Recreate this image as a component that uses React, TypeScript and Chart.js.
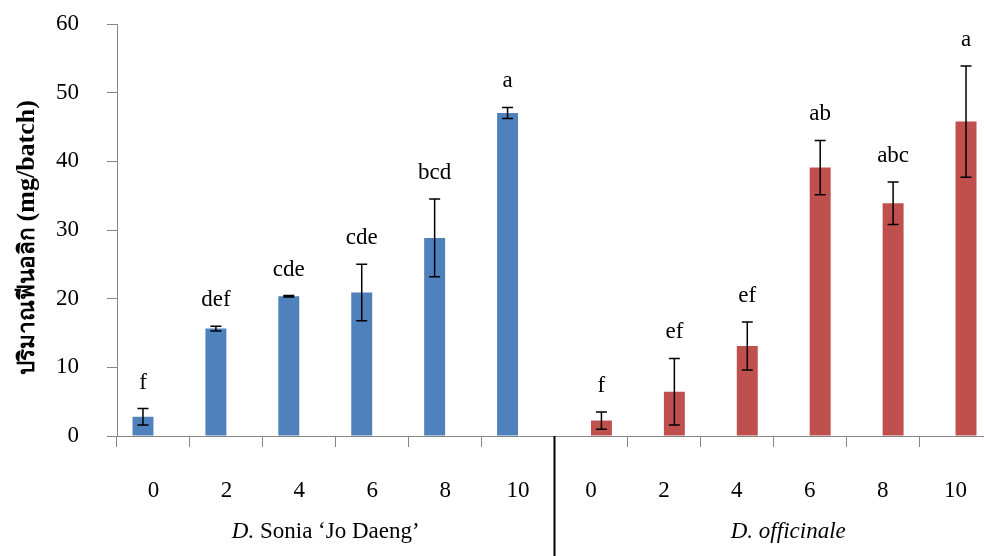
import React, { useEffect, useRef } from "react";
import { Chart, registerables } from "chart.js";

Chart.register(...registerables);

const doseLabels = ["0", "2", "4", "6", "8", "10", "0", "2", "4", "6", "8", "10"];
const soniaMeans = [2.8, 15.65, 20.35, 20.9, 28.85, 47.05];
const soniaErrors = [1.2, 0.35, 0.1, 4.1, 5.65, 0.8];
const soniaLetters = ["f", "def", "cde", "cde", "bcd", "a"];
const officinaleMeans = [2.25, 6.45, 13.1, 39.1, 33.9, 45.8];
const officinaleErrors = [1.25, 4.85, 3.5, 3.95, 3.1, 8.1];
const officinaleLetters = ["f", "ef", "ef", "ab", "abc", "a"];
const yTickValues = [0, 10, 20, 30, 40, 50, 60];
const yTitleThai = "ปริมาณฟีนอลิก ";
const yTitleUnit = "(mg/batch)";
const group1Italic = "D.";
const group1Rest = " Sonia ‘Jo Daeng’";
const group2Label = "D. officinale";

const SERIF = "'Liberation Serif', 'Times New Roman', serif";
const BLUE = "#4F81BD";
const RED = "#C0504D";
const AXIS = "#868686";

const emptyGroup = [null, null, null, null, null, null];

const overlayPlugin = {
  id: "overlay",
  afterDatasetsDraw(chart: any) {
    const ctx = chart.ctx as CanvasRenderingContext2D;
    const ys = chart.scales.y;
    const xs = chart.scales.x;
    const sets = [
      { means: soniaMeans, errs: soniaErrors, letters: soniaLetters, offset: 0 },
      { means: officinaleMeans, errs: officinaleErrors, letters: officinaleLetters, offset: 6 },
    ];
    ctx.save();
    sets.forEach((s, di) => {
      const meta = chart.getDatasetMeta(di);
      s.means.forEach((m, i) => {
        const bar = meta.data[i + s.offset];
        if (!bar) return;
        const cx = bar.x;
        const top = ys.getPixelForValue(m + s.errs[i]);
        const bot = ys.getPixelForValue(m - s.errs[i]);
        ctx.strokeStyle = "#000";
        ctx.lineWidth = 1.5;
        ctx.beginPath();
        ctx.moveTo(cx, top);
        ctx.lineTo(cx, bot);
        ctx.moveTo(cx - 5.5, top);
        ctx.lineTo(cx + 5.5, top);
        ctx.moveTo(cx - 5.5, bot);
        ctx.lineTo(cx + 5.5, bot);
        ctx.stroke();
        ctx.fillStyle = "#000";
        ctx.font = `23px ${SERIF}`;
        ctx.textAlign = "center";
        ctx.textBaseline = "alphabetic";
        ctx.fillText(s.letters[i], cx, top - 20);
      });
    });

    // separator line between groups
    const sepX = (xs.getPixelForValue(5) + xs.getPixelForValue(6)) / 2;
    ctx.strokeStyle = "#000";
    ctx.lineWidth = 2;
    ctx.beginPath();
    ctx.moveTo(sepX, chart.chartArea.bottom);
    ctx.lineTo(sepX, chart.height);
    ctx.stroke();

    // group labels
    const baseY = 538;
    const g1Center = (xs.getPixelForValue(0) + xs.getPixelForValue(5)) / 2 - 10;
    ctx.fillStyle = "#000";
    ctx.textBaseline = "alphabetic";
    ctx.textAlign = "left";
    ctx.font = `italic 23px ${SERIF}`;
    const w1 = ctx.measureText(group1Italic).width;
    ctx.font = `23px ${SERIF}`;
    const w2 = ctx.measureText(group1Rest).width;
    const startX = g1Center - (w1 + w2) / 2;
    ctx.font = `italic 23px ${SERIF}`;
    ctx.fillText(group1Italic, startX, baseY);
    ctx.font = `23px ${SERIF}`;
    ctx.fillText(group1Rest, startX + w1, baseY);
    const g2Center = (xs.getPixelForValue(6) + xs.getPixelForValue(11)) / 2 + 15;
    ctx.font = `italic 23px ${SERIF}`;
    ctx.textAlign = "center";
    ctx.fillText(group2Label, g2Center, baseY);

    // y axis title (rotated), Thai part + unit part
    ctx.save();
    ctx.translate(34, 375);
    ctx.rotate(-Math.PI / 2);
    ctx.textAlign = "left";
    ctx.textBaseline = "alphabetic";
    ctx.font = `bold 22px ${SERIF}`;
    const thaiW22 = ctx.measureText(yTitleThai).width;
    const thaiSize = Math.max(16, Math.min(26, (22 * 152) / thaiW22));
    ctx.font = `bold ${thaiSize}px ${SERIF}`;
    const thaiW = ctx.measureText(yTitleThai).width;
    ctx.fillText(yTitleThai, 0, 0);
    ctx.font = `bold 26px ${SERIF}`;
    ctx.fillText(yTitleUnit, thaiW, 0);
    ctx.restore();

    ctx.restore();
  },
};

export default function App() {
  const canvasRef = useRef<HTMLCanvasElement | null>(null);

  useEffect(() => {
    if (!canvasRef.current) return;
    const chart = new Chart(canvasRef.current, {
      type: "bar",
      data: {
        labels: doseLabels,
        datasets: [
          {
            label: "D. Sonia ‘Jo Daeng’",
            data: [...soniaMeans, ...emptyGroup],
            backgroundColor: BLUE,
            categoryPercentage: 0.575,
            barPercentage: 1,
          },
          {
            label: "D. officinale",
            data: [...emptyGroup, ...officinaleMeans],
            backgroundColor: RED,
            categoryPercentage: 0.575,
            barPercentage: 1,
          },
        ],
      },
      options: {
        animation: false,
        responsive: false,
        devicePixelRatio: 1,
        layout: { padding: { left: 0, right: 8, top: 24, bottom: 0 } },
        plugins: {
          legend: { display: false },
          tooltip: { enabled: false },
        },
        scales: {
          x: {
            afterFit: (s: any) => {
              s.height = 120;
              s.paddingLeft = 0;
              s.paddingRight = 0;
            },
            ticks: {
              font: { size: 23, family: SERIF },
              color: "#000",
              padding: 30,
              maxRotation: 0,
              autoSkip: false,
            },
            grid: {
              offset: true,
              drawOnChartArea: false,
              tickLength: 11,
              color: AXIS,
            },
            border: { color: AXIS, width: 1 },
          },
          y: {
            min: 0,
            max: 60,
            afterFit: (s: any) => {
              s.width = 117;
              s.paddingTop = 0;
              s.paddingBottom = 0;
            },
            afterBuildTicks: (s: any) => {
              s.ticks = yTickValues.map((v) => ({ value: v }));
            },
            ticks: {
              font: { size: 23, family: SERIF },
              color: "#000",
              padding: 28,
            },
            grid: {
              drawOnChartArea: false,
              tickLength: 10,
              color: AXIS,
            },
            border: { color: AXIS, width: 1 },
          },
        },
      },
      plugins: [overlayPlugin],
    });
    return () => chart.destroy();
  }, []);

  return (
    <div
      style={{
        position: "fixed",
        left: 0,
        top: 0,
        width: 984,
        height: 556,
        overflow: "hidden",
        background: "#fff",
      }}
    >
      <canvas ref={canvasRef} width={1000} height={556} style={{ width: 1000, height: 556, display: "block" }} />
    </div>
  );
}
